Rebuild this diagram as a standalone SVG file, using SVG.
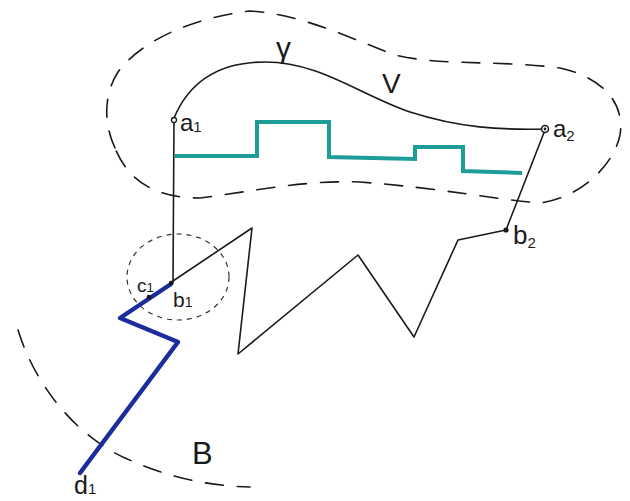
<svg xmlns="http://www.w3.org/2000/svg" width="630" height="501" viewBox="0 0 630 501">
<style>
.ink{fill:none;stroke:#1a1a1a;stroke-width:1.6;stroke-linejoin:round;stroke-linecap:round}
.dash{fill:none;stroke:#1a1a1a;stroke-width:1.6;stroke-dasharray:18 14;stroke-linecap:round}
.dots{fill:none;stroke:#333;stroke-width:1.2;stroke-dasharray:5 5}
.teal{fill:none;stroke:#1d9c98;stroke-width:4;stroke-linejoin:miter}
.blue{fill:none;stroke:#1c2c9c;stroke-width:4.5;stroke-linejoin:round;stroke-linecap:round}
.lbl{font-family:"Liberation Sans",Arial,sans-serif;font-size:24px;fill:#1a1a1a}
.sub{font-size:15px}
</style>
<rect width="630" height="501" fill="#ffffff"/>
<!-- outer dashed region V -->
<path class="dash" d="M115,148 C104,125 103,95 118,72 C140,42 190,18 250,11 C300,14 345,36 395,55 C440,66 500,60 560,68 C605,78 625,105 620,135 C614,165 580,198 540,203 C500,200 440,188 360,182 C300,180 250,192 200,198 C160,198 130,185 115,148 Z"/>
<!-- lower dashed curve B -->
<path class="dash" d="M18,330 C35,385 75,435 125,458 C165,476 205,486 250,487"/>
<!-- dashed circle around b1 -->
<ellipse class="dots" cx="178" cy="277" rx="51" ry="43"/>
<!-- curve gamma -->
<path class="ink" d="M174,118 C190,80 220,62 265,62 C320,62 360,95 410,112 C460,128 500,130 545,129"/>
<!-- vertical line a1-b1 -->
<path class="ink" d="M174,120 L173,283"/>
<!-- zigzag b1 .. b2 .. a2 -->
<path class="ink" d="M170,283 L252,228 L238,354 L358,255 L414,337 L458,240 L506,230 L545,130"/>
<!-- teal staircase -->
<path class="teal" d="M175,156 L257,156 L257,122 L329,122 L329,157 L415,159 L415,147 L463,147 L463,171 L522,173"/>
<!-- blue polyline -->
<path class="blue" d="M171,284 L120,318 L178,342 L80,473"/>
<!-- points -->
<circle cx="174" cy="120" r="2.5" fill="#fff" stroke="#1a1a1a" stroke-width="1.3"/>
<circle cx="545" cy="129" r="3.5" fill="#fff" stroke="#1a1a1a" stroke-width="1.5"/>
<circle cx="545" cy="129" r="1.4" fill="#1a1a1a"/>
<circle cx="506" cy="230" r="2.6" fill="#1a1a1a"/>
<circle cx="171" cy="283" r="2.2" fill="#1a1a1a"/>
<circle cx="149" cy="297" r="2.3" fill="#1a1a1a"/>
<!-- labels -->
<text class="lbl" x="180" y="131">a<tspan class="sub" dy="1">1</tspan></text>
<text class="lbl" x="553" y="137">a<tspan class="sub" dy="4">2</tspan></text>
<text class="lbl" x="276" y="58" style="font-size:30px">γ</text>
<text class="lbl" x="382" y="93" style="font-size:28px">V</text>
<text class="lbl" x="513" y="244" style="font-size:26px">b<tspan class="sub" dy="4">2</tspan></text>
<text class="lbl" x="137" y="292" style="font-size:19px">c<tspan class="sub" style="font-size:13px" dy="0">1</tspan></text>
<text class="lbl" x="173" y="307" style="font-size:21px">b<tspan class="sub" style="font-size:14px" dy="0">1</tspan></text>
<text class="lbl" x="74" y="494" style="font-size:25px">d<tspan class="sub" dy="0">1</tspan></text>
<text class="lbl" x="192" y="464" style="font-size:31px">B</text>
</svg>
